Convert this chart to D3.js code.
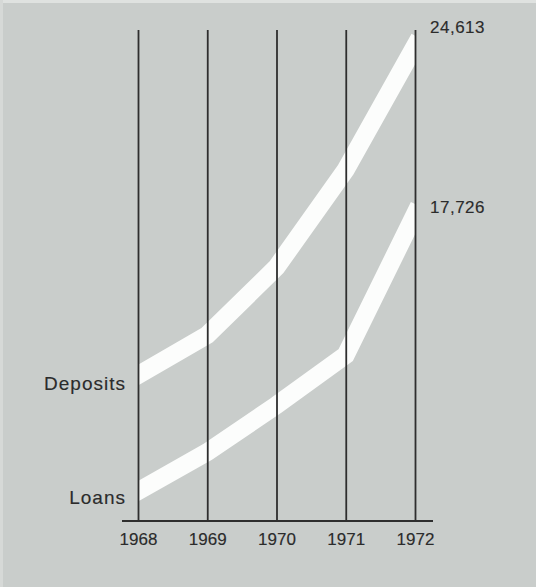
<!DOCTYPE html>
<html>
<head>
<meta charset="utf-8">
<script src="https://cdn.jsdelivr.net/npm/d3@7"></script>
<style>
  html, body { margin: 0; padding: 0; background: #c9cdcb; }
  svg { display: block; }
  text { font-family: "Liberation Sans", Arial, Helvetica, sans-serif; fill: #2b2b2b; }
</style>
</head>
<body>
<script>
// Years along the bottom axis
const years = [1968, 1969, 1970, 1971, 1972];
// Deposits and loans (millions of dollars)
const deposits = [11130, 12770, 15550, 19550, 24613];
const loans = [6370, 7970, 9900, 11950, 17726];
const seriesNames = ["Deposits", "Loans"];

const W = 536, H = 587;
const plotLeft = 138, plotRight = 415, plotTop = 30, plotBottom = 521;
const ink = "#2b2b2b";

const svg = d3.select("body").append("svg")
  .attr("width", W).attr("height", H);

// background with a lighter rim along the top/left edge
svg.append("rect").attr("width", W).attr("height", H).attr("fill", "#c9cdcb");
svg.append("rect").attr("width", W).attr("height", 3).attr("fill", "#dfe2e0");
svg.append("rect").attr("width", 3).attr("height", H).attr("fill", "#d6d9d7");

const x = d3.scalePoint().domain(years).range([plotLeft, plotRight]);
const y = d3.scaleLinear().domain([5150, 25270]).range([plotBottom, plotTop]);

// clip the bands to the span between first and last year
svg.append("defs").append("clipPath").attr("id", "span")
  .append("rect").attr("x", plotLeft).attr("y", 0)
  .attr("width", plotRight - plotLeft).attr("height", H);

const line = d3.line().x((d, i) => x(years[i])).y(d => y(d));

const bands = svg.append("g").attr("clip-path", "url(#span)");
[deposits, loans].forEach(s => {
  bands.append("path")
    .attr("d", line(s))
    .attr("fill", "none")
    .attr("stroke", "#fcfdfc")
    .attr("stroke-width", 18)
    .attr("stroke-linejoin", "miter")
    .attr("stroke-linecap", "square");
});

// vertical year rules and labels
const axis = d3.axisBottom(x)
  .tickSize(-(plotBottom - plotTop))
  .tickPadding(12)
  .tickFormat(d3.format("d"));
const ax = svg.append("g").attr("transform", `translate(0,${plotBottom})`).call(axis);
ax.select(".domain").remove();
ax.selectAll(".tick line").attr("stroke", "#2e2e2e").attr("stroke-width", 1.8);
ax.selectAll(".tick text")
  .attr("font-size", 17)
  .attr("font-family", "'Liberation Sans', Arial, sans-serif")
  .attr("fill", ink)
  .attr("stroke", ink).attr("stroke-width", 0.15);

// baseline
svg.append("line")
  .attr("x1", plotLeft - 16).attr("x2", plotRight + 18)
  .attr("y1", plotBottom).attr("y2", plotBottom)
  .attr("stroke", "#2e2e2e").attr("stroke-width", 1.8);

// series names at the start of each band
const startLabels = [
  { name: seriesNames[0], v: deposits[0], dy: 15 },
  { name: seriesNames[1], v: loans[0], dy: 13 }
];
svg.selectAll("text.name").data(startLabels).enter().append("text")
  .attr("class", "name")
  .attr("x", plotLeft - 12)
  .attr("y", d => y(d.v) + d.dy)
  .attr("text-anchor", "end")
  .attr("font-size", 19)
  .attr("letter-spacing", 1)
  .attr("stroke", ink).attr("stroke-width", 0.15)
  .text(d => d.name);

// final values at the end of each band
const fmt = d3.format(",");
const endLabels = [
  { v: deposits[4], dy: -13 },
  { v: loans[4], dy: -1 }
];
svg.selectAll("text.end").data(endLabels).enter().append("text")
  .attr("class", "end")
  .attr("x", plotRight + 15)
  .attr("y", d => y(d.v) + d.dy)
  .attr("font-size", 17)
  .attr("letter-spacing", 0.5)
  .attr("stroke", ink).attr("stroke-width", 0.15)
  .text(d => fmt(d.v));
</script>
</body>
</html>
